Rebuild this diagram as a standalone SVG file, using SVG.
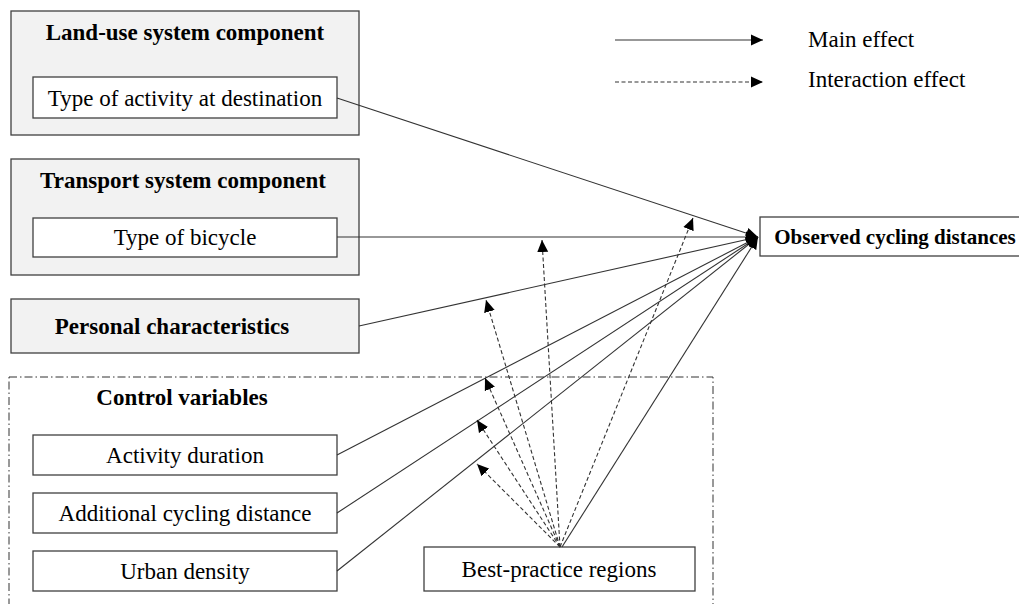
<svg xmlns="http://www.w3.org/2000/svg" width="1019" height="604" viewBox="0 0 1019 604">
<defs>
<style>
.t{font-family:"Liberation Serif","Times New Roman",serif;font-size:23px;fill:#000}
.b{font-weight:bold}
.grp{fill:#f2f2f2;stroke:#404040;stroke-width:1.3}
.box{fill:#fff;stroke:#404040;stroke-width:1.3}
.main{fill:none;stroke:#333;stroke-width:1.1;marker-end:url(#ah)}
.int{fill:none;stroke:#333;stroke-width:1.1;stroke-dasharray:4 2.5;marker-end:url(#ah)}
</style>
<marker id="ah" markerUnits="userSpaceOnUse" markerWidth="12" markerHeight="12" viewBox="0 0 12 12" refX="12" refY="6" orient="auto">
<path d="M0,0.5 L12,6 L0,11.5 z" fill="#000"/>
</marker>
</defs>
<rect width="1019" height="604" fill="#fff"/>

<g id="control-variables">
<rect x="9" y="377" width="704" height="240" fill="none" stroke="#333" stroke-width="1" stroke-dasharray="8 3 1.5 3"/>
<text class="t b" x="182" y="405" text-anchor="middle">Control variables</text>
</g>

<g id="land-use">
<rect class="grp" x="11" y="11" width="348" height="124"/>
<text class="t b" x="185" y="40" text-anchor="middle">Land-use system component</text>
</g>
<g id="type-of-activity">
<rect class="box" x="33" y="77" width="304" height="41"/>
<text class="t" x="185" y="106" text-anchor="middle">Type of activity at destination</text>
</g>

<g id="transport">
<rect class="grp" x="11" y="159" width="348" height="116"/>
<text class="t b" x="183" y="188" text-anchor="middle">Transport system component</text>
</g>
<g id="type-of-bicycle">
<rect class="box" x="33" y="218" width="304" height="39"/>
<text class="t" x="185" y="245" text-anchor="middle">Type of bicycle</text>
</g>

<g id="personal">
<rect class="grp" x="11" y="299" width="348" height="54"/>
<text class="t b" x="172" y="334" text-anchor="middle">Personal characteristics</text>
</g>

<g id="activity-duration">
<rect class="box" x="33" y="435" width="304" height="40"/>
<text class="t" x="185" y="463" text-anchor="middle">Activity duration</text>
</g>
<g id="additional-distance">
<rect class="box" x="33" y="493" width="304" height="40"/>
<text class="t" x="185" y="521" text-anchor="middle">Additional cycling distance</text>
</g>
<g id="urban-density">
<rect class="box" x="33" y="551" width="304" height="40"/>
<text class="t" x="185" y="579" text-anchor="middle">Urban density</text>
</g>
<g id="best-practice">
<rect class="box" x="424" y="547" width="271" height="44"/>
<text class="t" x="559" y="577" text-anchor="middle">Best-practice regions</text>
</g>

<g id="observed">
<rect class="box" x="760" y="217" width="262" height="39"/>
<text class="t b" x="895" y="244" text-anchor="middle" style="font-size:21px">Observed cycling distances</text>
</g>

<g id="legend">
<line class="main" x1="615" y1="40" x2="763" y2="40"/>
<line class="int" x1="615" y1="82" x2="763" y2="82"/>
<text class="t" x="808" y="47">Main effect</text>
<text class="t" x="808" y="87">Interaction effect</text>
</g>

<g id="connectors">
<line class="main" x1="337" y1="98" x2="758" y2="237"/>
<line class="main" x1="337" y1="237" x2="758" y2="237"/>
<line class="main" x1="359" y1="326" x2="758" y2="237"/>
<line class="main" x1="337" y1="455" x2="758" y2="237"/>
<line class="main" x1="337" y1="513" x2="758" y2="237"/>
<line class="main" x1="337" y1="571" x2="758" y2="237"/>
<line class="main" x1="562" y1="547" x2="758" y2="237"/>
<line class="int" x1="560" y1="547" x2="693" y2="218"/>
<line class="int" x1="560" y1="547" x2="542" y2="240"/>
<line class="int" x1="560" y1="547" x2="486" y2="300"/>
<line class="int" x1="560" y1="547" x2="485" y2="378"/>
<line class="int" x1="560" y1="547" x2="477" y2="420"/>
<line class="int" x1="560" y1="547" x2="477" y2="464"/>
</g>
</svg>
